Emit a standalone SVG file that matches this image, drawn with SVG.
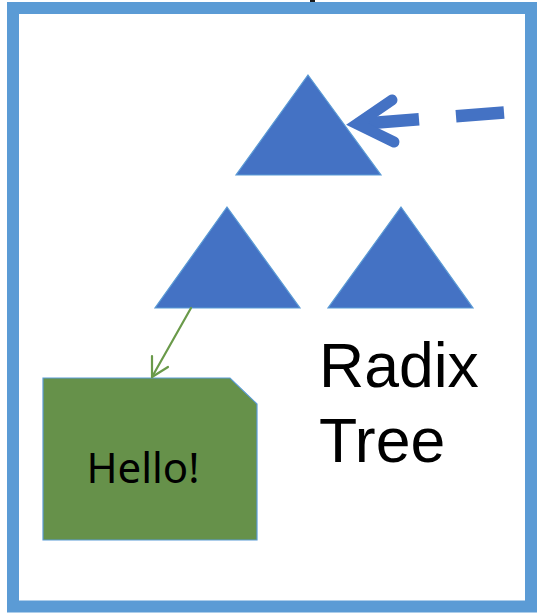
<svg xmlns="http://www.w3.org/2000/svg" width="539" height="613" viewBox="0 0 539 613">
  <style>
    .tri { fill: #4472C4; stroke: #5B9BD5; stroke-width: 1.2; }
    .blue-line { fill: none; stroke: #4472C4; stroke-width: 12.5; stroke-linecap: butt; }
    .green-line { fill: none; stroke: #6A9A4A; stroke-width: 2.2; stroke-linecap: round; stroke-linejoin: round; }
    .label { font-family: "Liberation Sans", Arial, sans-serif; fill: #000; }
    .note { font-family: "Noto Sans", "Open Sans", sans-serif; fill: #000; }
  </style>

  <rect x="0" y="0" width="539" height="613" fill="#FFFFFF"/>

  <!-- stray glyph fragment above the frame -->
  <rect x="310" y="0" width="5" height="3" fill="#1a1a1a"/>

  <!-- outer frame -->
  <rect id="frame" x="13" y="8" width="518" height="598.5" fill="none" stroke="#5B9BD5" stroke-width="12"/>

  <!-- tree nodes -->
  <g id="node-root">
    <polygon class="tri" points="308,75 381,175 236,175"/>
  </g>
  <g id="node-left">
    <polygon class="tri" points="227,207 300,308 155,308"/>
  </g>
  <g id="node-right">
    <polygon class="tri" points="401,207 473,308 328,308"/>
  </g>

  <!-- leaf value box -->
  <g id="node-hello">
    <path d="M43,378 L230,378 L257,404 L257,540 L43,540 Z" fill="#66914A" stroke="#5B9BD5" stroke-width="1.2"/>
    <text class="note" x="143" y="483" font-size="42" text-anchor="middle">Hello!</text>
  </g>

  <!-- title label -->
  <g id="label-radix-tree">
    <text class="label" x="319" y="387" font-size="62.5">Radix</text>
    <text class="label" x="319" y="462" font-size="62.5">Tree</text>
  </g>

  <!-- connectors -->
  <g id="connectors">
    <!-- dashed pointer into the root -->
    <line class="blue-line" x1="504" y1="112.5" x2="456" y2="116.3"/>
    <line class="blue-line" x1="419" y1="119.2" x2="362" y2="123.8"/>
    <path d="M392,100 L357,124 L394,142" fill="none" stroke="#4472C4" stroke-width="11" stroke-linecap="round" stroke-linejoin="miter" stroke-miterlimit="10"/>

    <!-- left child to value -->
    <line class="green-line" x1="191" y1="308" x2="152" y2="377"/>
    <path class="green-line" d="M152,356 L152,377 L168,367"/>
  </g>
</svg>
